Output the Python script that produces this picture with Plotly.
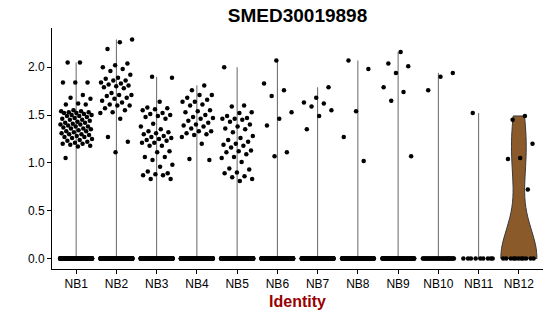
import numpy as np
import plotly.graph_objects as go

categories = ["NB1", "NB2", "NB3", "NB4", "NB5", "NB6", "NB7", "NB8", "NB9", "NB10", "NB11", "NB12"]

# expressed (non-zero) values per identity
nb1 = [2.05, 2.05, 1.84, 1.84, 1.84, 1.71, 1.68, 1.67, 1.62, 1.61, 1.61, 1.55, 1.54, 1.54, 1.53,
       1.53, 1.52, 1.52, 1.51, 1.50, 1.50, 1.49, 1.49, 1.48, 1.47, 1.46, 1.45, 1.45, 1.44, 1.43,
       1.42, 1.42, 1.41, 1.40, 1.40, 1.39, 1.38, 1.38, 1.37, 1.36, 1.36, 1.35, 1.34, 1.33, 1.33,
       1.32, 1.31, 1.30, 1.30, 1.29, 1.28, 1.27, 1.27, 1.26, 1.25, 1.24, 1.23, 1.22, 1.21, 1.20,
       1.20, 1.19, 1.18, 1.17, 1.05]
nb2 = [2.29, 2.26, 2.19, 2.04, 2.02, 2.00, 1.98, 1.96, 1.92, 1.89, 1.88, 1.86, 1.86, 1.84, 1.83,
       1.82, 1.81, 1.80, 1.79, 1.78, 1.73, 1.71, 1.71, 1.70, 1.68, 1.67, 1.65, 1.63, 1.61, 1.60,
       1.60, 1.57, 1.55, 1.53, 1.52, 1.46, 1.27, 1.22, 1.11]
nb3 = [1.90, 1.89, 1.64, 1.58, 1.57, 1.56, 1.55, 1.52, 1.51, 1.50, 1.49, 1.48, 1.46, 1.41, 1.38,
       1.35, 1.33, 1.32, 1.31, 1.30, 1.28, 1.27, 1.26, 1.25, 1.24, 1.23, 1.21, 1.21, 1.18, 1.18,
       1.12, 1.11, 1.06, 1.06, 1.03, 0.98, 0.96, 0.91, 0.89, 0.88, 0.87, 0.87, 0.83, 0.83]
nb4 = [1.81, 1.76, 1.71, 1.71, 1.68, 1.66, 1.64, 1.64, 1.61, 1.60, 1.55, 1.54, 1.53, 1.50, 1.48,
       1.47, 1.46, 1.44, 1.42, 1.40, 1.39, 1.38, 1.36, 1.33, 1.33, 1.31, 1.30, 1.29, 1.27, 1.20,
       1.04, 1.03]
nb5 = [2.00, 1.60, 1.59, 1.53, 1.52, 1.49, 1.47, 1.46, 1.46, 1.45, 1.43, 1.40, 1.38, 1.36, 1.35,
       1.32, 1.28, 1.26, 1.24, 1.22, 1.20, 1.19, 1.18, 1.16, 1.13, 1.12, 1.11, 1.09, 1.06, 1.05,
       1.01, 0.94, 0.93, 0.90, 0.89, 0.86, 0.85, 0.83, 0.81]
nb6 = [2.07, 1.83, 1.76, 1.70, 1.53, 1.46, 1.39, 1.11, 1.07]
nb7 = [1.79, 1.68, 1.63, 1.62, 1.59, 1.55, 1.49, 1.35]
nb8 = [2.07, 1.98, 1.54, 1.27, 1.02]
nb9 = [2.16, 2.04, 2.01, 1.94, 1.79, 1.74, 1.65, 1.07]
nb10 = [1.94, 1.90, 1.76]
nb11 = [1.52]
nb12 = [1.49, 1.45, 1.20, 1.05, 1.04, 0.72]
expressed = [nb1, nb2, nb3, nb4, nb5, nb6, nb7, nb8, nb9, nb10, nb11, nb12]

# number of cells with zero expression per identity (estimated)
zero_counts = [300, 300, 300, 300, 300, 200, 200, 150, 110, 35, 9, 11]

y_ticks = [0.0, 0.5, 1.0, 1.5, 2.0]

title_text = "SMED30019898"
x_title = "Identity"
violin_fill = "#8B5A2B"


def jitter(n, seed):
    # deterministic low-discrepancy spread across the category width
    k = np.arange(n) + 1
    return ((k * 0.6180339887 + seed * 0.37) % 1.0) * 0.8 - 0.4


fig = go.Figure()

# violin for the only identity with a visible density
last = len(categories) - 1
vals12 = [0.0] * zero_counts[last] + expressed[last]
fig.add_trace(go.Violin(
    x=[last] * len(vals12), y=vals12, width=0.9, spanmode="hard", bandwidth=0.32,
    fillcolor=violin_fill, line=dict(color="#3a3a3a", width=1), opacity=1,
    points=False, box_visible=False, meanline_visible=False, showlegend=False,
    scalemode="width", hoverinfo="skip"))

# degenerate violins (drawn as thin lines from 0 up to the group max)
lx, ly = [], []
for i, vals in enumerate(expressed[:-1]):
    lx += [i, i, None]
    ly += [0, max(vals), None]
fig.add_trace(go.Scatter(x=lx, y=ly, mode="lines", line=dict(color="#666666", width=1),
                         showlegend=False, hoverinfo="skip"))

# jittered points
px, py = [], []
for i, vals in enumerate(expressed):
    allv = list(vals) + [0.0] * zero_counts[i]
    offs = jitter(len(allv), i)
    px += list(i + offs)
    py += allv
fig.add_trace(go.Scatter(x=px, y=py, mode="markers",
                         marker=dict(color="black", size=4.5, line=dict(width=0)),
                         showlegend=False, hoverinfo="skip"))

fig.update_layout(
    width=550, height=316,
    margin=dict(l=52, r=7, t=28, b=47),
    paper_bgcolor="white", plot_bgcolor="white",
    font=dict(family="Liberation Sans, Arial, sans-serif", color="black"),
    title=dict(text="<b>" + title_text + "</b>", x=0.5, xref="paper", xanchor="center",
               y=1 - 15.5 / 316, yref="container", yanchor="middle",
               font=dict(size=19, color="black")),
    xaxis=dict(range=[-0.6, 11.6], tickmode="array", tickvals=list(range(len(categories))),
               ticktext=categories, showgrid=False, zeroline=False,
               showline=True, linecolor="black", linewidth=1,
               ticks="outside", ticklen=4, tickcolor="black", tickwidth=1,
               tickfont=dict(size=12, color="black"),
               title=dict(text="<b>" + x_title + "</b>", font=dict(size=16, color="#990000"),
                          standoff=5)),
    yaxis=dict(range=[-0.11, 2.41], tickmode="array", tickvals=y_ticks,
               ticktext=["%.1f" % v for v in y_ticks], showgrid=False, zeroline=False,
               showline=True, linecolor="black", linewidth=1,
               ticks="outside", ticklen=4, tickcolor="black", tickwidth=1,
               tickfont=dict(size=12, color="black")),
)

fig.write_html("out.html")
